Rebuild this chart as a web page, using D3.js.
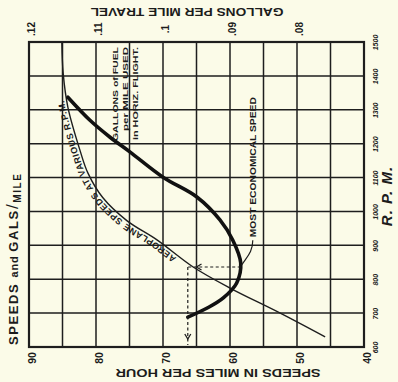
<!DOCTYPE html>
<html><head><meta charset="utf-8">
<script src="https://cdn.jsdelivr.net/npm/d3@7"></script>
<style>
html,body{margin:0;padding:0;background:#fbfbe8;}
svg{display:block;}
text{font-family:"Liberation Sans",Arial,sans-serif;fill:#1c1c1c;font-weight:bold;}
</style></head>
<body>
<script>
// ---- data ----
const speedTicks = [90, 80, 70, 60, 50, 40];
const galTicks = [0.12, 0.11, 0.10, 0.09, 0.08];
const galLabels = [".12", ".11", ".1", ".09", ".08"];
const rpmTicks = [600, 700, 800, 900, 1000, 1100, 1200, 1300, 1400, 1500];
// Aeroplane speeds at various R.P.M.
const planeSpeed = [85.1, 84.9, 84.2, 82.4, 81.2, 79.0, 75.4, 70.9, 65.5, 60.0, 52.5, 45.8];
const planeRpm   = [1500, 1408, 1308, 1181, 1113, 1041, 973, 916, 836, 774, 700, 630];
// Gallons of fuel per mile used in horizontal flight
const fuelGal = [0.1142, 0.1109, 0.1079, 0.1049, 0.1000, 0.0949, 0.0915, 0.0896, 0.0884, 0.0890, 0.0910, 0.0934, 0.0963];
const fuelRpm = [1337, 1269, 1219, 1175, 1101, 1042, 975, 916, 848, 789, 745, 715, 688];
// most economical point
const econRpm = 836, econGal = 0.0884, econSpeed = 66.3, econArrowSpeed = 65.0;

const W = 398, H = 382;
const svg = d3.select("body").append("svg").attr("width", W).attr("height", H);
svg.append("rect").attr("width", W).attr("height", H).attr("fill", "#fbfbe8");

const x = d3.scaleLinear().domain([90, 40]).range([29, 364]);
const g = d3.scaleLinear().domain([0.12, 0.07]).range([29, 364]);
const y = d3.scaleLinear().domain([600, 1500]).range([347, 42]);

const ink = "#1e1e1e";

// grid
const grid = svg.append("g");
grid.selectAll(".vx").data(x.ticks(10)).join("line")
  .attr("x1", d => x(d)).attr("x2", d => x(d)).attr("y1", y(600)).attr("y2", y(1500))
  .attr("stroke", ink).attr("stroke-width", 1.5);
grid.selectAll(".hy").data(y.ticks(9)).join("line")
  .attr("y1", d => y(d)).attr("y2", d => y(d)).attr("x1", x(90)).attr("x2", x(40))
  .attr("stroke", ink).attr("stroke-width", 1.5);
grid.append("rect").attr("x", x(90)).attr("y", y(1500)).attr("width", x(40) - x(90)).attr("height", y(600) - y(1500))
  .attr("fill", "none").attr("stroke", ink).attr("stroke-width", 2.2);

// axes (labels only)
const bottomAx = svg.append("g").attr("transform", `translate(0,${y(600) + 8})`)
  .call(d3.axisBottom(x).tickValues(speedTicks).tickSize(0).tickFormat(d3.format("d")));
bottomAx.select(".domain").remove();
bottomAx.selectAll("text").attr("transform", "rotate(-90)").attr("text-anchor", "middle")
  .attr("x", -3).attr("y", 3).attr("dy", "0.35em").style("font-size", "10.5px").style("font-family", "Liberation Sans").style("font-weight", "bold");

const topAx = svg.append("g").attr("transform", `translate(0,${y(1500) - 8})`)
  .call(d3.axisTop(g).tickValues(galTicks).tickSize(0).tickFormat((d, i) => galLabels[i]));
topAx.select(".domain").remove();
topAx.selectAll("text").attr("transform", "rotate(-90)").attr("text-anchor", "middle")
  .attr("x", 5).attr("y", 2).attr("dy", "0.35em").style("font-size", "10px").style("font-family", "Liberation Sans").style("font-weight", "bold");

const rightAx = svg.append("g").attr("transform", `translate(${x(40) + 6},0)`)
  .call(d3.axisRight(y).tickValues(rpmTicks).tickSize(0).tickFormat(d3.format("d")));
rightAx.select(".domain").remove();
rightAx.selectAll("text").attr("transform", "rotate(-90)").attr("text-anchor", "middle")
  .attr("x", 0).attr("y", 6).attr("dy", "0.35em").style("font-size", "7px").style("font-style", "italic")
  .style("font-family", "Liberation Sans").style("font-weight", "bold");

// curves
const planeData = planeSpeed.map((s, i) => ({ s, r: planeRpm[i] }));
const fuelData = fuelGal.map((v, i) => ({ v, r: fuelRpm[i] }));

const planeLine = d3.line().x(d => x(d.s)).y(d => y(d.r)).curve(d3.curveCatmullRom);
svg.append("path").attr("d", planeLine(planeData)).attr("fill", "none").attr("stroke", ink).attr("stroke-width", 1.4);

const fuelLine = d3.line().x(d => g(d.v)).y(d => y(d.r)).curve(d3.curveCatmullRom);
svg.append("path").attr("d", fuelLine(fuelData)).attr("fill", "none").attr("stroke", "#111")
  .attr("stroke-width", 3.6).attr("stroke-linecap", "round");

// text along the speed curve
svg.append("path").attr("id", "planePath").attr("d", planeLine(planeData.slice().reverse())).attr("fill", "none");
svg.append("text").attr("dy", -2.5).style("font-size", "9px").style("letter-spacing", "0.6px")
  .append("textPath").attr("href", "#planePath").attr("startOffset", 168)
  .text("AEROPLANE SPEEDS AT VARIOUS R.P.M.");

// dashed economical guides
svg.append("line").attr("x1", g(econGal)).attr("x2", x(econSpeed)).attr("y1", y(econRpm)).attr("y2", y(econRpm))
  .attr("stroke", ink).attr("stroke-width", 1.2).attr("stroke-dasharray", "3,2.5");
svg.append("line").attr("x1", x(econSpeed)).attr("x2", x(econSpeed)).attr("y1", y(econRpm)).attr("y2", y(600) - 2)
  .attr("stroke", ink).attr("stroke-width", 1.2).attr("stroke-dasharray", "3,2.5");
// arrowheads
const ax = x(econArrowSpeed), ay = y(econRpm);
svg.append("path").attr("d", `M${ax + 5},${ay - 3}L${ax},${ay}L${ax + 5},${ay + 3}`)
  .attr("fill", "none").attr("stroke", ink).attr("stroke-width", 1.3);
const vx = x(econSpeed), vy = y(600) - 8;
svg.append("path").attr("d", `M${vx - 3},${vy - 5}L${vx},${vy}L${vx + 3},${vy - 5}`)
  .attr("fill", "none").attr("stroke", ink).attr("stroke-width", 1.3);

// Most economical speed label + leader
const lx = x(56.6), ly = y(924);
svg.append("text").attr("transform", `translate(${lx + 3},${ly}) rotate(-90)`)
  .attr("textLength", 140).attr("lengthAdjust", "spacingAndGlyphs")
  .style("font-size", "8.5px").text("MOST ECONOMICAL SPEED");
svg.append("path")
  .attr("d", `M${lx},${ly + 3} C${lx},${ly + 15} ${g(econGal) + 6},${y(econRpm) - 10} ${g(econGal) + 1},${y(econRpm) - 2}`)
  .attr("fill", "none").attr("stroke", ink).attr("stroke-width", 1.2);

// Gallons of fuel label
const gl = [["GALLONS of FUEL", 118, 141], ["per MILE USED", 128, 131], ["in HORIZ. FLIGHT.", 138, 140]];
gl.forEach(([t, px, py]) => {
  svg.append("text").attr("transform", `translate(${px},${py}) rotate(-90)`)
    .attr("textLength", py - 47).attr("lengthAdjust", "spacingAndGlyphs")
    .style("font-size", "8px").text(t);
});

// axis titles
svg.append("text").attr("transform", "translate(187,8) rotate(180)").attr("text-anchor", "middle")
  .attr("textLength", 193).attr("lengthAdjust", "spacingAndGlyphs")
  .style("font-size", "10.5px").text("GALLONS PER MILE TRAVEL");
svg.append("text").attr("transform", "translate(218,369) rotate(180)").attr("text-anchor", "middle")
  .attr("textLength", 205).attr("lengthAdjust", "spacingAndGlyphs")
  .style("font-size", "10.5px").text("SPEEDS IN MILES PER HOUR");
const lt = svg.append("text").attr("transform", "translate(18,345) rotate(-90)")
  .style("font-size", "13px").style("letter-spacing", "1.6px");
lt.append("tspan").text("SPEEDS ");
lt.append("tspan").style("font-size", "11px").style("letter-spacing", "0.8px").text("and ");
lt.append("tspan").text("GALS");
lt.append("tspan").style("font-size", "17px").style("font-weight", "normal").text("/");
lt.append("tspan").attr("dy", 3).style("font-size", "10px").text("MILE");
svg.append("text").attr("transform", "translate(392,196) rotate(-90)").attr("text-anchor", "middle")
  .style("font-size", "15px").style("font-style", "italic").style("letter-spacing", "1px").text("R. P. M.");
</script>
</body></html>
